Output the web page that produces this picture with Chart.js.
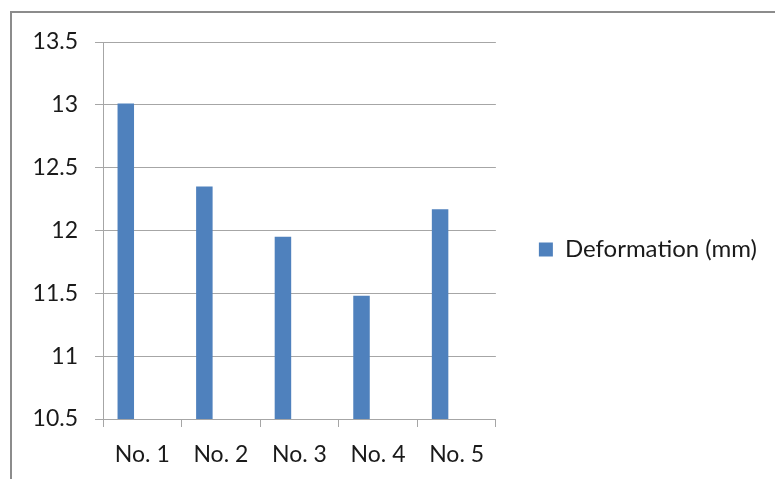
<!DOCTYPE html>
<html>
<head>
<meta charset="utf-8">
<script src="https://cdn.jsdelivr.net/npm/chart.js@4/dist/chart.umd.min.js"></script>
<style>
  html, body { margin: 0; padding: 0; background: #ffffff; }
  #wrap { width: 775px; height: 479px; position: relative; }
</style>
</head>
<body>
<div id="wrap"><canvas id="chart" width="775" height="479"></canvas></div>
<script>
// Specimen deformation readings
const categories = ['No. 1', 'No. 2', 'No. 3', 'No. 4', 'No. 5'];
const deformation = [13.01, 12.35, 11.95, 11.48, 12.17];
const seriesName = 'Deformation (mm)';
// Two unused series columns in the source sheet keep their slots in each group
const unusedColumnA = [null, null, null, null, null];
const unusedColumnB = [null, null, null, null, null];
const yTicks = [10.5, 11, 11.5, 12, 12.5, 13, 13.5];

const BAR_BLUE = '#4F81BD';
const GRID_GREY = '#a6a6a6';
const TEXT = '#1a1a1a';

// Thin grey frame around the chart object
const framePlugin = {
  id: 'frame',
  beforeDraw(chart) {
    const ctx = chart.ctx;
    ctx.save();
    ctx.fillStyle = '#ffffff';
    ctx.fillRect(0, 0, chart.width, chart.height);
    ctx.strokeStyle = '#8c8c8c';
    ctx.lineWidth = 2;
    ctx.strokeRect(11, 12, chart.width + 20, chart.height + 20);
    ctx.restore();
  }
};

// The legend sits a little below the middle of the plot
const legendDrop = {
  id: 'legendDrop',
  afterLayout(chart) {
    if (chart.legend) {
      chart.legend.top += 19;
      chart.legend.bottom += 19;
    }
  }
};

Chart.defaults.font.family = 'Lato, "Open Sans", sans-serif';
Chart.defaults.font.size = 23;
Chart.defaults.color = TEXT;

new Chart(document.getElementById('chart'), {
  type: 'bar',
  data: {
    labels: categories,
    datasets: [
      { label: seriesName, data: deformation, backgroundColor: BAR_BLUE, borderWidth: 0 },
      { label: '', data: unusedColumnA, backgroundColor: BAR_BLUE },
      { label: '', data: unusedColumnB, backgroundColor: BAR_BLUE }
    ]
  },
  plugins: [framePlugin, legendDrop],
  options: {
    responsive: false,
    animation: false,
    devicePixelRatio: 1,
    layout: { padding: { top: 42, right: 8, bottom: 0, left: 0 } },
    datasets: { bar: { categoryPercentage: 0.63, barPercentage: 1.0 } },
    plugins: {
      tooltip: { enabled: false },
      legend: {
        position: 'right',
        fullSize: false,
        maxWidth: 400,
        labels: {
          boxWidth: 14,
          boxHeight: 14,
          padding: 43,
          font: { size: 24 },
          color: TEXT,
          filter: (item) => item.text !== ''
        }
      }
    },
    scales: {
      x: {
        type: 'category',
        grid: {
          offset: true,
          drawOnChartArea: false,
          drawTicks: true,
          tickLength: 8,
          color: GRID_GREY
        },
        border: { color: GRID_GREY },
        ticks: { padding: 14, font: { size: 23 }, color: TEXT, maxRotation: 0 },
        afterFit(scale) { scale.height = 60; }
      },
      y: {
        min: yTicks[0],
        max: yTicks[yTicks.length - 1],
        afterBuildTicks(scale) { scale.ticks = yTicks.map(v => ({ value: v })); },
        grid: { color: GRID_GREY, tickLength: 8, drawTicks: true },
        border: { color: GRID_GREY },
        ticks: {
          padding: 17,
          font: { size: 23 },
          color: TEXT,
          callback: (v) => String(Number(v))
        },
        afterFit(scale) { scale.width = 103; }
      }
    }
  }
});
</script>
</body>
</html>
